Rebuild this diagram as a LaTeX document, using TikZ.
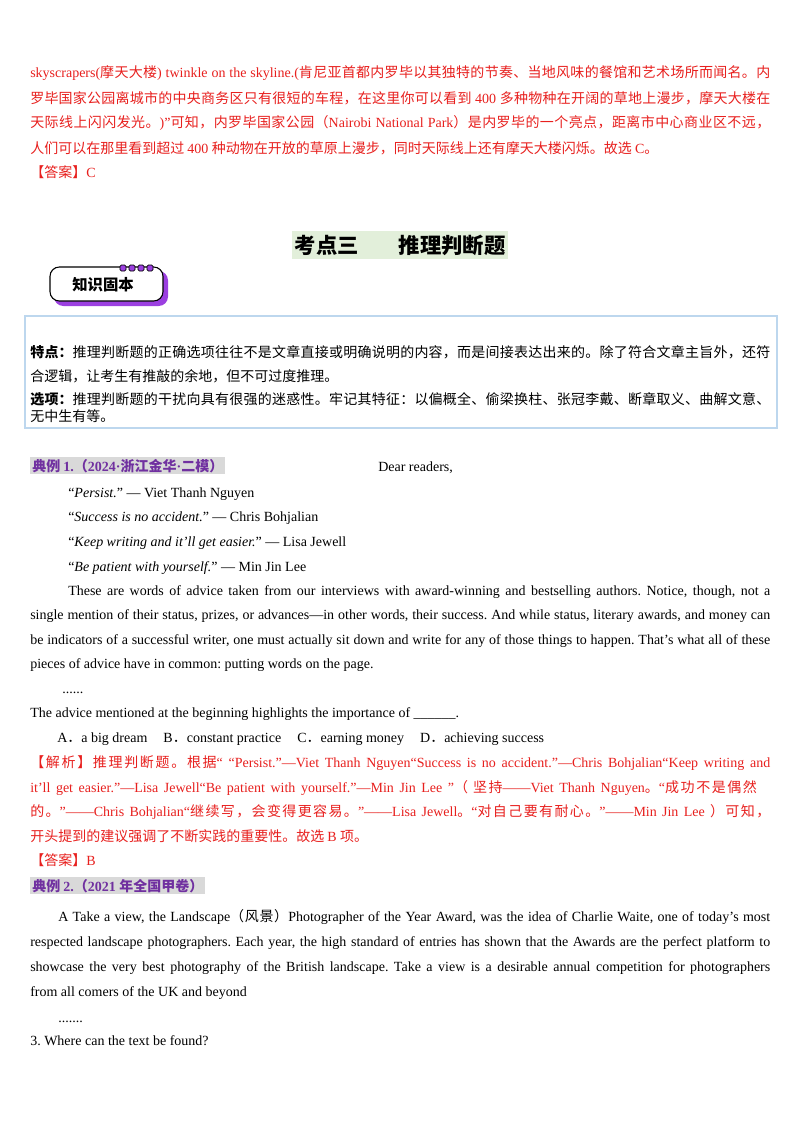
\documentclass[tikz,border=0pt]{standalone}
\usepackage{fontspec}
\setmainfont{Liberation Serif}
\newfontfamily\cjk{Noto Sans CJK SC}
\XeTeXinterchartokenstate=1
\newXeTeXintercharclass\cjkclass
\newcount\cc
\def\setcjkrange#1#2{\cc=#1\relax\loop\XeTeXcharclass\cc=\cjkclass\relax\ifnum\cc<#2\advance\cc by1\repeat}
\setcjkrange{"3000}{"303F}\setcjkrange{"4E00}{"9FFF}\setcjkrange{"FF00}{"FFEF}
\XeTeXinterchartoks 0 \cjkclass = {\cjk}
\XeTeXinterchartoks 4095 \cjkclass = {\cjk}
\XeTeXinterchartoks \cjkclass 0 = {\rmfamily}
\XeTeXinterchartoks 4095 0 = {\rmfamily}
\XeTeXinterchartoks \cjkclass \cjkclass = {\hskip0pt plus 1pt minus 0.3pt}
\definecolor{ansred}{HTML}{E8201E}
\definecolor{lblpurple}{HTML}{7030A0}
\definecolor{lblgray}{HTML}{D9D9D9}
\definecolor{boxblue}{HTML}{BDD7EE}
\definecolor{titlegreen}{HTML}{E2EFDA}
\definecolor{badgepurple}{HTML}{9B3FE0}
\newcommand\jl[1]{\makebox[555pt][s]{#1}}
\newcommand\jli[1]{\makebox[526.5pt][s]{#1}}
\newcommand\jlj[1]{\makebox[534pt][s]{#1}}
\frenchspacing
\begin{document}
\begin{tikzpicture}[x=0.75pt,y=-0.75pt,
  ln/.style={anchor=base west,inner sep=0pt,font=\fontsize{10.5pt}{12pt}\selectfont},
  rd/.style={ln,text=ansred},
  lbl/.style={anchor=base west,inner sep=1.5pt,fill=lblgray,text=lblpurple,font=\fontsize{10.5pt}{12pt}\selectfont\bfseries}]
\useasboundingbox[fill=white] (0,0) rectangle (800,1132);
% red answer paragraph
\node[rd] (r1) at (30,77) {\jl{skyscrapers(摩天大楼) twinkle on the skyline.(肯尼亚首都内罗毕以其独特的节奏、当地风味的餐馆和艺术场所而闻名。内}};
\node[rd] (r2) at (30,103) {\jl{罗毕国家公园离城市的中央商务区只有很短的车程，在这里你可以看到 400 多种物种在开阔的草地上漫步，摩天大楼在}};
\node[rd] (r3) at (30,127) {\jl{天际线上闪闪发光。)”可知，内罗毕国家公园（Nairobi National Park）是内罗毕的一个亮点，距离市中心商业区不远，}};
\node[rd] (r4) at (30,153) {人们可以在那里看到超过 400 种动物在开放的草原上漫步，同时天际线上还有摩天大楼闪烁。故选 C。};
\node[rd] (r5) at (30,177) {【答案】C};
% title
\node[fill=titlegreen,inner xsep=2pt,inner ysep=3pt,font=\fontsize{16pt}{18pt}\selectfont\bfseries] (title) at (400,245) {考点三\hspace{30pt}推理判断题};
% badge
\fill[badgepurple,rounded corners=7pt] (54,271) rectangle (168,306);
\draw[black,fill=white,line width=0.8pt,rounded corners=7pt] (50,267) rectangle (163,301);
\foreach \i in {0,1,2,3}{\draw[black,fill=badgepurple,line width=0.5pt,rounded corners=1pt] (120+\i*9,265) rectangle (126+\i*9,271);}
\node[font=\fontsize{11.5pt}{13pt}\selectfont\bfseries] (badge) at (103,285) {知识固本};
% knowledge box
\draw[boxblue,line width=1.6pt] (25,316) rectangle (777,428);
\node[ln] (k1) at (30,357) {\jl{\textbf{特点：}推理判断题的正确选项往往不是文章直接或明确说明的内容，而是间接表达出来的。除了符合文章主旨外，还符}};
\node[ln] (k2) at (30,381) {合逻辑，让考生有推敲的余地，但不可过度推理。};
\node[ln] (k3) at (30,404) {\jl{\textbf{选项：}推理判断题的干扰向具有很强的迷惑性。牢记其特征：以偏概全、偷梁换柱、张冠李戴、断章取义、曲解文意、}};
\node[ln] (k4) at (30,421) {无中生有等。};
% example 1
\node[lbl] (e1) at (30,471) {典例 1.（2024·浙江金华·二模）};
\node[ln] (dear) at (378,471) {Dear readers,};
\node[ln] (q1) at (68,497) {“\textit{Persist.}” — Viet Thanh Nguyen};
\node[ln] (q2) at (68,521) {“\textit{Success is no accident.}” — Chris Bohjalian};
\node[ln] (q3) at (68,546) {“\textit{Keep writing and it’ll get easier.}” — Lisa Jewell};
\node[ln] (q4) at (68,571) {“\textit{Be patient with yourself.}” — Min Jin Lee};
\node[ln] (p1) at (68,595) {\jli{These are words of advice taken from our interviews with award-winning and bestselling authors. Notice, though, not a}};
\node[ln] (p2) at (30,619) {\jl{single mention of their status, prizes, or advances—in other words, their success. And while status, literary awards, and money can}};
\node[ln] (p3) at (30,644) {\jl{be indicators of a successful writer, one must actually sit down and write for any of those things to happen. That’s what all of these}};
\node[ln] (p4) at (30,668) {pieces of advice have in common: putting words on the page.};
\node[ln] (dots1) at (62,693) {......};
\node[ln] (qq) at (30,717) {The advice mentioned at the beginning highlights the importance of \_\_\_\_\_\_.};
\node[ln] (opt) at (57,742) {A．a big dream\hspace{12pt}B．constant practice\hspace{12pt}C．earning money\hspace{12pt}D．achieving success};
\node[rd] (j1) at (30,767) {\jl{【解析】推理判断题。根据“ “Persist.”—Viet Thanh Nguyen“Success is no accident.”—Chris Bohjalian“Keep writing and}};
\node[rd] (j2) at (30,792) {\makebox[545pt][s]{it’ll get easier.”—Lisa Jewell“Be patient with yourself.”—Min Jin Lee ”（ 坚持——Viet Thanh Nguyen。“成功不是偶然}};
\node[rd] (j3) at (30,816) {\jl{的。”——Chris Bohjalian“继续写，会变得更容易。”——Lisa Jewell。“对自己要有耐心。”——Min Jin Lee ）可知，}};
\node[rd] (j4) at (30,841) {开头提到的建议强调了不断实践的重要性。故选 B 项。};
\node[rd] (a2) at (30,865) {【答案】B};
% example 2
\node[lbl] (e2) at (30,891) {典例 2.（2021 年全国甲卷）};
\node[ln] (s1) at (58,921) {\jlj{A Take a view, the Landscape（风景）Photographer of the Year Award, was the idea of Charlie Waite, one of today's most}};
\node[ln] (s2) at (30,946) {\jl{respected landscape photographers. Each year, the high standard of entries has shown that the Awards are the perfect platform to}};
\node[ln] (s3) at (30,971) {\jl{showcase the very best photography of the British landscape. Take a view is a desirable annual competition for photographers}};
\node[ln] (s4) at (30,996) {from all comers of the UK and beyond};
\node[ln] (dots2) at (58,1022) {.......};
\node[ln] (q3b) at (30,1045) {3. Where can the text be found?};
\end{tikzpicture}
\end{document}
